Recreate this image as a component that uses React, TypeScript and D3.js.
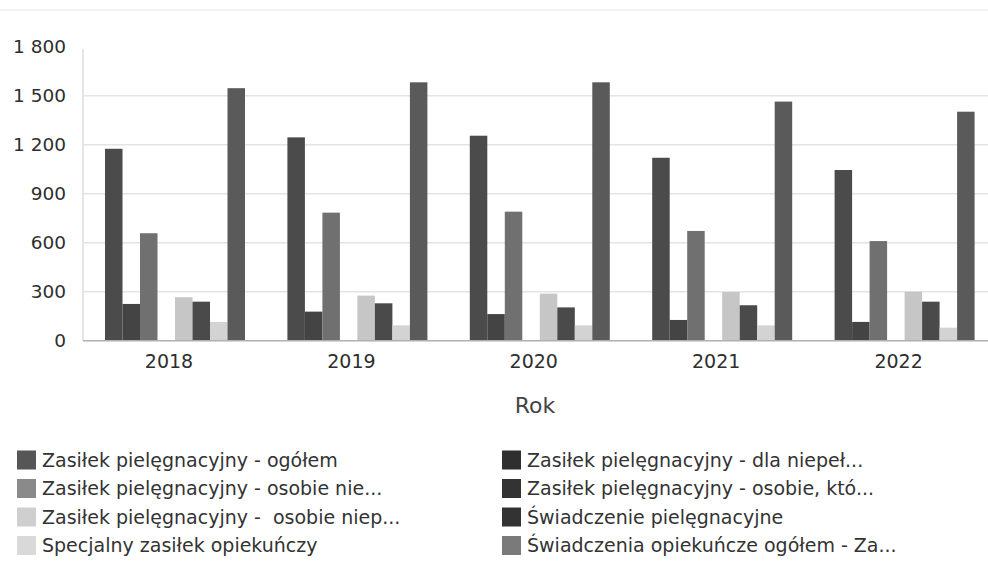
import React from 'react'
import * as d3 from 'd3'

// years on the x axis
const years = ['2018', '2019', '2020', '2021', '2022']

// series, in legend order (row by row)
const seriesNames = [
  'Zasiłek pielęgnacyjny - ogółem',
  'Zasiłek pielęgnacyjny - dla niepeł...',
  'Zasiłek pielęgnacyjny - osobie nie...',
  'Zasiłek pielęgnacyjny - osobie, któ...',
  'Zasiłek pielęgnacyjny -  osobie niep...',
  'Świadczenie pielęgnacyjne',
  'Specjalny zasiłek opiekuńczy',
  'Świadczenia opiekuńcze ogółem - Za...',
]

const zpOgolem = [1175, 1245, 1255, 1120, 1045]
const zpDlaNiepel = [225, 178, 163, 127, 115]
const zpOsobieNie = [658, 784, 790, 672, 610]
const zpOsobieKto = [0, 0, 0, 0, 0]
const zpOsobieNiep = [266, 276, 288, 298, 300]
const swiadczeniePiel = [239, 229, 204, 217, 239]
const specjalnyZasilek = [115, 94, 94, 94, 80]
const swiadczeniaOgolem = [1546, 1582, 1582, 1464, 1402]

const seriesValues = [
  zpOgolem,
  zpDlaNiepel,
  zpOsobieNie,
  zpOsobieKto,
  zpOsobieNiep,
  swiadczeniePiel,
  specjalnyZasilek,
  swiadczeniaOgolem,
]

const yTicks = [0, 300, 600, 900, 1200, 1500, 1800]

const barColors = [
  '#4b4b4b',
  '#444444',
  '#707070',
  '#333333',
  '#c6c6c6',
  '#4a4a4a',
  '#d3d3d3',
  '#5a5a5a',
]
const legendColors = [
  '#565656',
  '#2f2f2f',
  '#8a8a8a',
  '#333333',
  '#cfcfcf',
  '#333333',
  '#d9d9d9',
  '#7a7a7a',
]

const W = 988
const H = 564
const font = '"DejaVu Sans", Verdana, sans-serif'

const fmt = d3.formatLocale({
  decimal: ',',
  thousands: ' ',
  grouping: [3],
  currency: ['', ' zł'],
}).format(',d')

export default function App() {
  const y = d3.scaleLinear().domain([0, 1800]).range([340.7, 46.7])
  const x = d3
    .scaleBand<string>()
    .domain(years)
    .range([83.8, 995.8])
    .paddingInner(0.2325)
    .paddingOuter(0.11625)
  const xi = d3
    .scaleBand<number>()
    .domain(d3.range(seriesNames.length))
    .range([0, x.bandwidth()])

  return (
    <svg
      width={W}
      height={H}
      style={{ position: 'absolute', left: 0, top: 0, background: '#fff' }}
      fontFamily={font}
    >
      <line x1={0} x2={W} y1={10} y2={10} stroke="#eeeeee" strokeWidth={1.5} />

      {/* grid */}
      {yTicks
        .filter((t) => t > 0 && t < 1800)
        .map((t) => (
          <line
            key={t}
            x1={83}
            x2={W}
            y1={y(t)}
            y2={y(t)}
            stroke="#e4e4e4"
            strokeWidth={1.5}
          />
        ))}
      <line x1={83} x2={83} y1={y(1800) + 2} y2={y(0)} stroke="#dcdcdc" strokeWidth={1.5} />

      {/* y labels */}
      {yTicks.map((t) => (
        <text
          key={t}
          x={66}
          y={y(t)}
          dy="0.36em"
          textAnchor="end"
          fontSize={18.5}
          fill="#2e2e2e"
        >
          {fmt(t)}
        </text>
      ))}

      {/* bars */}
      {years.map((yr, i) => (
        <g key={yr} transform={`translate(${x(yr)},0)`}>
          {seriesValues.map((vals, s) =>
            vals[i] > 0 ? (
              <rect
                key={s}
                x={xi(s)}
                y={y(vals[i])}
                width={xi.bandwidth()}
                height={y(0) - y(vals[i])}
                fill={barColors[s]}
              />
            ) : null,
          )}
        </g>
      ))}

      <line x1={83} x2={W} y1={y(0)} y2={y(0)} stroke="#b0b0b0" strokeWidth={1.5} />

      {/* x labels */}
      {years.map((yr) => (
        <text
          key={yr}
          x={x(yr)! + x.bandwidth() / 2 - 6}
          y={361}
          dy="0.36em"
          textAnchor="middle"
          fontSize={19}
          fill="#2e2e2e"
        >
          {yr}
        </text>
      ))}
      <text x={535} y={405} dy="0.36em" textAnchor="middle" fontSize={22} fill="#444">
        Rok
      </text>

      {/* legend */}
      {seriesNames.map((name, s) => {
        const col = s % 2
        const row = Math.floor(s / 2)
        const lx = col === 0 ? 17 : 502
        const ly = 460 + row * 28.5
        return (
          <g key={name}>
            <rect x={lx} y={ly - 9.5} width={19} height={19} fill={legendColors[s]} />
            <text
              x={lx + 25}
              y={ly}
              dy="0.36em"
              fontSize={19}
              fill="#333"
              style={{ whiteSpace: 'pre' }}
            >
              {name}
            </text>
          </g>
        )
      })}
    </svg>
  )
}
